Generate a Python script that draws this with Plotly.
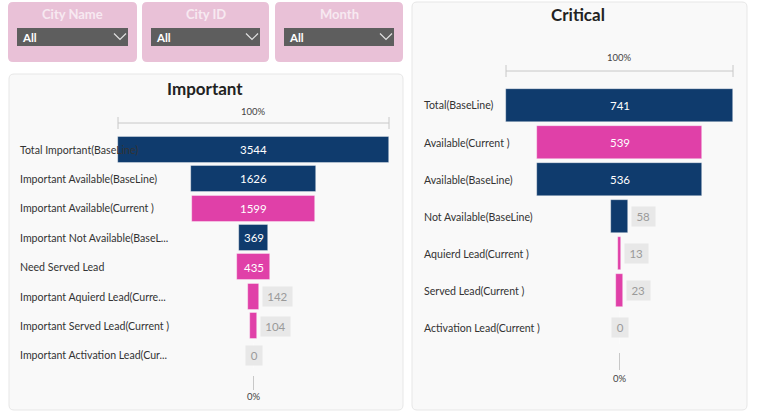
import plotly.graph_objects as go

W, H = 764, 419

# ---------------- data ----------------
imp_labels = ["Total Important(BaseLine)", "Important Available(BaseLine)",
              "Important Available(Current )", "Important Not Available(BaseL...",
              "Need Served Lead", "Important Aquierd Lead(Curre...",
              "Important Served Lead(Current )", "Important Activation Lead(Cur..."]
imp_values = [3544, 1626, 1599, 369, 435, 142, 104, 0]
imp_kind = ["BaseLine", "BaseLine", "Current", "BaseLine", "Current", "Current", "Current", "Current"]

crit_labels = ["Total(BaseLine)", "Available(Current )", "Available(BaseLine)",
               "Not Available(BaseLine)", "Aquierd Lead(Current )", "Served Lead(Current )",
               "Activation Lead(Current )"]
crit_values = [741, 539, 536, 58, 13, 23, 0]
crit_kind = ["BaseLine", "Current", "BaseLine", "BaseLine", "Current", "Current", "Current"]

slicer_titles = ["City Name", "City ID", "Month"]
slicer_values = ["All", "All", "All"]

top_label = "100%"
bottom_label = "0%"

# ---------------- style ----------------
FONT = "Lato"
NAVY = "#0f3b6d"
PINK = "#e040a8"
KIND_COLOR = {"BaseLine": NAVY, "Current": PINK}


def px(x):
    return x / W


def py(y):
    return 1 - y / H


def rrect(x0, y0, x1, y1, r, fill, line="rgba(0,0,0,0)", lw=1):
    X0, X1 = px(x0), px(x1)
    Y0, Y1 = py(y0), py(y1)
    rx, ry = r / W, r / H
    path = (f"M{X0+rx},{Y0} L{X1-rx},{Y0} Q{X1},{Y0} {X1},{Y0-ry} "
            f"L{X1},{Y1+ry} Q{X1},{Y1} {X1-rx},{Y1} L{X0+rx},{Y1} "
            f"Q{X0},{Y1} {X0},{Y1+ry} L{X0},{Y0-ry} Q{X0},{Y0} {X0+rx},{Y0} Z")
    return dict(type="path", path=path, xref="paper", yref="paper",
                fillcolor=fill, line=dict(color=line, width=lw), layer="below")


fig = go.Figure()
shapes = []
annotations = []

# ---------------- slicers ----------------
slicer_boxes = [(8, 2, 137, 62), (142, 2, 269, 62), (275, 2, 403, 62)]
for (x0, y0, x1, y1), title, val in zip(slicer_boxes, slicer_titles, slicer_values):
    shapes.append(rrect(x0, y0, x1, y1, 5, "#e9c1d7"))
    annotations.append(dict(x=px((x0 + x1) / 2), y=py(14), xref="paper", yref="paper",
                            text=f"<b>{title}</b>", showarrow=False,
                            font=dict(family=FONT, size=13, color="#f7e9f1"),
                            xanchor="center", yanchor="middle"))
    dx0, dx1 = x0 + 9, x1 - 9
    shapes.append(dict(type="rect", xref="paper", yref="paper",
                       x0=px(dx0), x1=px(dx1), y0=py(28), y1=py(46),
                       fillcolor="#5e5e5e", line=dict(width=0), layer="below"))
    annotations.append(dict(x=px(dx0 + 3), y=py(37.5), xref="paper", yref="paper",
                            text=f"<b>{val}</b>", showarrow=False,
                            font=dict(family=FONT, size=11.5, color="white"),
                            xanchor="left", yanchor="middle"))
    cx = dx1 - 8
    shapes.append(dict(type="path", xref="paper", yref="paper",
                       path=f"M{px(cx-6)},{py(33.5)} L{px(cx)},{py(39.5)} L{px(cx+6)},{py(33.5)}",
                       line=dict(color="#e0e0e0", width=1.2)))

# ---------------- funnel panels ----------------
panels = [
    dict(labels=imp_labels, values=imp_values, kinds=imp_kind, title="Important",
         box=(9, 74, 403, 410), title_xy=(205, 88), ax0=118, ax1=389,
         line_y=123, pct_y=111, row_top=134.8, row_bot=370.2,
         zl=(376, 390), zero_y=396, label_x=18, bw=0.88, xa="x", ya="y"),
    dict(labels=crit_labels, values=crit_values, kinds=crit_kind, title="Critical",
         box=(412, 2, 747, 410), title_xy=(578, 15), ax0=506, ax1=733,
         line_y=71, pct_y=57, row_top=87, row_bot=346,
         zl=(353, 370), zero_y=378, label_x=422, bw=0.89, xa="x2", ya="y2"),
]

layout_axes = {}
for i, p in enumerate(panels):
    bx0, by0, bx1, by1 = p["box"]
    shapes.append(rrect(bx0, by0, bx1, by1, 5, "#f9f9f9", "#e7e7e7", 1))
    vals = p["values"]
    vmax = max(vals)
    scale = (p["ax1"] - p["ax0"]) / vmax
    c = (p["ax0"] + p["ax1"]) / 2
    xr = [(bx0 - c) / scale, (bx1 - c) / scale]
    n = len(vals)
    suffix = "" if i == 0 else "2"
    layout_axes["xaxis" + suffix] = dict(domain=[px(bx0), px(bx1)], range=xr,
                                         visible=False, fixedrange=True,
                                         anchor="y" + suffix)
    layout_axes["yaxis" + suffix] = dict(domain=[py(p["row_bot"]), py(p["row_top"])],
                                         range=[n - 0.5, -0.5], type="category",
                                         visible=False, anchor="x" + suffix,
                                         categoryorder="array", categoryarray=p["labels"])

    fig.add_trace(go.Bar(
        y=p["labels"], x=vals, base=[-v / 2 for v in vals], orientation="h",
        marker=dict(color=[KIND_COLOR[k] for k in p["kinds"]],
                    line=dict(color="rgba(255,255,255,0.6)", width=0.6)),
        width=p["bw"], xaxis=p["xa"], yaxis=p["ya"], hoverinfo="skip",
        showlegend=False))

    # title
    annotations.append(dict(x=px(p["title_xy"][0]), y=py(p["title_xy"][1]),
                            xref="paper", yref="paper", text=f"<b>{p['title']}</b>",
                            showarrow=False, font=dict(family=FONT, size=17, color="#222222"),
                            xanchor="center", yanchor="middle"))
    # 100% scale line
    ly = py(p["line_y"])
    shapes.append(dict(type="line", xref=p["xa"], yref="paper", x0=-vmax / 2, x1=vmax / 2,
                       y0=ly, y1=ly, line=dict(color="#c8c8c8", width=1)))
    for xe in (-vmax / 2, vmax / 2):
        shapes.append(dict(type="line", xref=p["xa"], yref="paper", x0=xe, x1=xe,
                           y0=py(p["line_y"] - 6), y1=py(p["line_y"] + 6),
                           line=dict(color="#c8c8c8", width=1)))
    annotations.append(dict(x=0, xref=p["xa"], y=py(p["pct_y"]), yref="paper",
                            text=top_label, showarrow=False,
                            font=dict(family=FONT, size=9.5, color="#444444"),
                            xanchor="center", yanchor="middle"))
    # 0% line
    shapes.append(dict(type="line", xref=p["xa"], yref="paper", x0=0, x1=0,
                       y0=py(p["zl"][0]), y1=py(p["zl"][1]),
                       line=dict(color="#c8c8c8", width=1)))
    annotations.append(dict(x=0, xref=p["xa"], y=py(p["zero_y"]), yref="paper",
                            text=bottom_label, showarrow=False,
                            font=dict(family=FONT, size=9.5, color="#444444"),
                            xanchor="center", yanchor="middle"))

    # category labels & value labels
    for lab, v in zip(p["labels"], vals):
        annotations.append(dict(x=px(p["label_x"]), xref="paper", y=lab, yref=p["ya"],
                                text=lab, showarrow=False,
                                font=dict(family=FONT, size=10.6, color="#333333"),
                                xanchor="left", yanchor="middle"))
        bar_px = v * scale
        txt = str(v)
        if bar_px >= 25:
            annotations.append(dict(x=0, xref=p["xa"], y=lab, yref=p["ya"], text=txt,
                                    showarrow=False,
                                    font=dict(family=FONT, size=11.5, color="white"),
                                    xanchor="center", yanchor="middle"))
        else:
            bw_txt = len(txt) * 6.3 + 6
            common = dict(y=lab, yref=p["ya"], text=txt, showarrow=False,
                          font=dict(family=FONT, size=11.5, color="#9a9a9a"),
                          bgcolor="#e8e8e8", borderpad=2, width=bw_txt, height=15,
                          yanchor="middle", xref=p["xa"])
            if v == 0:
                annotations.append(dict(x=0, xanchor="center", **common))
            else:
                annotations.append(dict(x=v / 2, xanchor="left", xshift=3, **common))

fig.update_layout(
    width=W, height=H, margin=dict(l=0, r=0, t=0, b=0),
    paper_bgcolor="white", plot_bgcolor="rgba(0,0,0,0)",
    shapes=shapes, annotations=annotations, bargap=0,
    font=dict(family=FONT),
    **layout_axes,
)

fig.write_html("out.html", config={"displayModeBar": False})
